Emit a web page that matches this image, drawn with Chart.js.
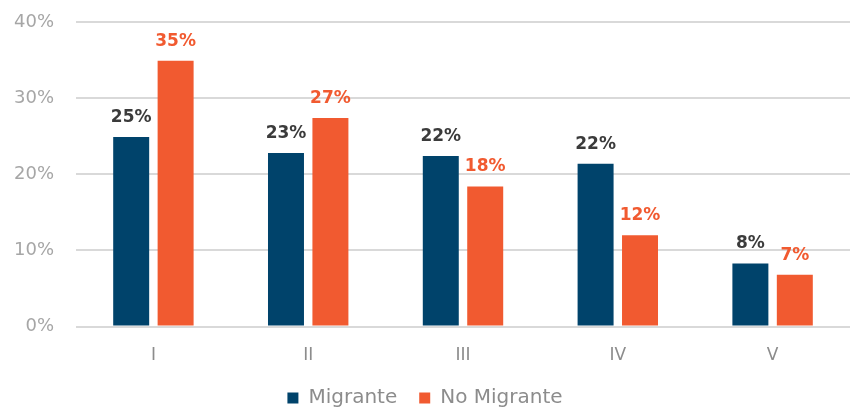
<!DOCTYPE html>
<html><head><meta charset="utf-8">
<script src="https://cdn.jsdelivr.net/npm/chart.js@4"></script>
<style>html,body{margin:0;padding:0;background:#fff}#wrap{width:850px;height:408px}</style>
</head><body><div id="wrap"><canvas id="c" width="850" height="408"></canvas></div>
<script>
const categories = ["I", "II", "III", "IV", "V"];
const migrante = [24.9, 22.8, 22.4, 21.4, 8.3];
const noMigrante = [34.9, 27.4, 18.4, 12.0, 6.8];
const migranteLabels = ["25%", "23%", "22%", "22%", "8%"];
const noMigranteLabels = ["35%", "27%", "18%", "12%", "7%"];
const yTicks = [0, 10, 20, 30, 40];

const labelPlugin = {
  id: 'barLabels',
  afterDatasetsDraw(chart) {
    const ctx = chart.ctx;
    const sets = [{labels: migranteLabels, color: '#3b3b3b'}, {labels: noMigranteLabels, color: '#f15a30'}];
    sets.forEach((s, di) => {
      chart.getDatasetMeta(di).data.forEach((bar, i) => {
        ctx.save();
        ctx.font = 'bold 17px "DejaVu Sans"';
        ctx.fillStyle = s.color;
        ctx.textAlign = 'center';
        ctx.textBaseline = 'alphabetic';
        ctx.fillText(s.labels[i], bar.x, bar.y - 15);
        ctx.restore();
      });
    });
  }
};

new Chart(document.getElementById('c'), {
  type: 'bar',
  data: {
    labels: categories,
    datasets: [
      {label: 'Migrante', data: migrante, backgroundColor: '#00436b', categoryPercentage: 0.574, barPercentage: 0.81},
      {label: 'No Migrante', data: noMigrante, backgroundColor: '#f15a30', categoryPercentage: 0.574, barPercentage: 0.81}
    ]
  },
  options: {
    responsive: false,
    animation: false,
    layout: {padding: {top: 22, left: 0, right: 0, bottom: -10}},
    plugins: {
      legend: {
        position: 'bottom',
        labels: {boxWidth: 11, boxHeight: 11, color: '#8c8c8c', font: {family: 'DejaVu Sans', size: 20}, padding: 22}
      },
      tooltip: {enabled: false}
    },
    scales: {
      x: {
        grid: {display: false, drawTicks: false},
        border: {display: false},
        ticks: {color: '#8c8c8c', font: {family: 'DejaVu Sans', size: 17}, padding: 19},
        afterFit(scale) { scale.height -= 19; scale.paddingLeft = 0; scale.paddingRight = 0; }
      },
      y: {
        min: 0, max: 40,
        afterBuildTicks(axis) { axis.ticks = yTicks.map(v => ({value: v})); },
        grid: {color: '#d9d9d9', lineWidth: 2, drawTicks: false},
        border: {display: false},
        ticks: {color: '#a6a6a6', font: {family: 'DejaVu Sans', size: 18}, padding: 22, callback: v => v + '%'},
        afterFit(scale) { scale.width = 76; scale.paddingTop = 0; scale.paddingBottom = 0; }
      }
    }
  },
  plugins: [labelPlugin]
});
</script></body></html>
